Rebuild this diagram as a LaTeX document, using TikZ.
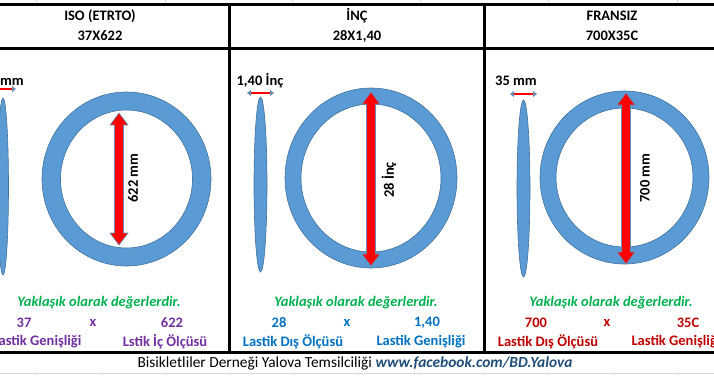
\documentclass[tikz,border=0pt]{standalone}
\usepackage{fontspec}
\setmainfont{Carlito}
\usetikzlibrary{arrows.meta}

\definecolor{ringblue}{HTML}{5B9BD5}
\definecolor{ringedge}{HTML}{41719C}
\definecolor{tipblue}{HTML}{6A8DB5}
\definecolor{okgreen}{HTML}{00B050}
\definecolor{isopurple}{HTML}{7030A0}
\definecolor{incblue}{HTML}{0070C0}
\definecolor{frred}{HTML}{C00000}
\definecolor{fbblue}{HTML}{1F4E79}

\tikzset{
  txt/.style={inner sep=0pt, font=\fontsize{14.5}{17}\selectfont\bfseries},
  plain/.style={inner sep=0pt, font=\fontsize{15.4}{18}\selectfont},
  rim/.style={fill=ringblue, draw=ringedge, line width=0.6pt, even odd rule},
  tyre/.style={fill=ringblue, draw=ringedge, line width=0.6pt},
  bar/.style={line width=3pt},
  grid/.style={gray!30, line width=0.6pt},
  widtharrow/.style={red, line width=2.4pt,
    {Triangle[length=4pt,width=6pt,color=tipblue]}-{Triangle[length=4pt,width=6pt,color=tipblue]}},
  arrowbody/.style={fill=red, draw=tipblue, line width=0.6pt}
}

\newcommand{\bigdimarrow}[3]{%
  \filldraw[arrowbody] ({#1-4.5},{#2+12}) -- ({#1-9},{#2+12}) -- (#1,#2) -- ({#1+9},{#2+12})
    -- ({#1+4.5},{#2+12}) -- ({#1+4.5},{#3-12}) -- ({#1+9},{#3-12}) -- (#1,#3)
    -- ({#1-9},{#3-12}) -- ({#1-4.5},{#3-12}) -- cycle;}

\begin{document}
\begin{tikzpicture}[x=1pt,y=-1pt]
  \useasboundingbox (0,0) rectangle (714,375);
  \clip (0,0) rectangle (714,375);

  \foreach \gx in {36,165,292,420,548,677}
    \draw[grid] (\gx,0) -- (\gx,4);
  \foreach \gx in {36,101,165,229,293,357,420,484,548,613,677}
    \draw[grid] (\gx,373) -- (\gx,375);
  \draw[grid] (0,373) -- (714,373);

  \draw[bar] (0,4) -- (714,4);
  \draw[bar] (0,48) -- (714,48);
  \draw[bar] (0,352) -- (714,352);
  \draw[bar] (229,4) -- (229,352);
  \draw[bar] (484,4) -- (484,352);

  \node[txt] (iso) at (100,16) {ISO (ETRTO)};
  \node[txt] (isosize) at (100,36) {37X622};
  \node[txt] (inc) at (357,16) {İNÇ};
  \node[txt] (incsize) at (357,36) {28X1,40};
  \node[txt] (fr) at (612,16) {FRANSIZ};
  \node[txt] (frsize) at (612,36) {700X35C};

  \filldraw[tyre] (3,186.5) ellipse (5.5 and 88.5);
  \filldraw[tyre] (260.5,184.5) ellipse (6.5 and 87.5);
  \filldraw[tyre] (523.5,188.5) ellipse (6.5 and 88.5);

  \node[txt] (isow) at (3,81) {37 mm};
  \node[txt] (incw) at (260,81) {1,40 İnç};
  \node[txt] (frw) at (516,81) {35 mm};
  \coordinate (isowl) at (-10,89);
  \coordinate (isowr) at (16,89);
  \coordinate (incwl) at (247,93);
  \coordinate (incwr) at (274,93);
  \coordinate (frwl) at (510,94);
  \coordinate (frwr) at (537,94);
  \draw[widtharrow] (isowl) -- (isowr);
  \draw[widtharrow] (incwl) -- (incwr);
  \draw[widtharrow] (frwl) -- (frwr);

  \filldraw[rim] (126.5,179) ellipse (84.5 and 87) (126.5,179) ellipse (66 and 69);
  \filldraw[rim] (371,178) ellipse (86 and 90) (371,178) ellipse (70 and 74);
  \filldraw[rim] (624.5,177.5) ellipse (84.5 and 86.5) (624.5,177.5) ellipse (68.5 and 69.5);

  \bigdimarrow{119}{113}{245}
  \bigdimarrow{371}{92}{266}
  \bigdimarrow{626}{93}{264}

  \node[txt, rotate=90] (isod) at (133,178) {622 mm};
  \node[txt, rotate=90] (incd) at (389,180) {28 İnç};
  \node[txt, rotate=90] (frd) at (645,178) {700 mm};

  \node[txt, okgreen, font=\fontsize{14.5}{17}\selectfont\bfseries\itshape] (isonote) at (99,303) {Yaklaşık olarak değerlerdir.};
  \node[txt, okgreen, font=\fontsize{14.5}{17}\selectfont\bfseries\itshape] (incnote) at (356,303) {Yaklaşık olarak değerlerdir.};
  \node[txt, okgreen, font=\fontsize{14.5}{17}\selectfont\bfseries\itshape] (frnote) at (611,303) {Yaklaşık olarak değerlerdir.};

  \node[txt, isopurple] (isoa) at (24,323) {37};
  \node[txt, isopurple] (isox) at (93,323) {x};
  \node[txt, isopurple] (isob) at (172,323) {622};
  \node[txt, incblue] (inca) at (279,323) {28};
  \node[txt, incblue] (incx) at (347,323) {x};
  \node[txt, incblue] (incb) at (427,323) {1,40};
  \node[txt, frred] (fra) at (536,323) {700};
  \node[txt, frred] (frx) at (607,323) {x};
  \node[txt, frred] (frb) at (688,323) {35C};

  \node[txt, isopurple] (isoal) at (37,342) {Lastik Genişliği};
  \node[txt, isopurple] (isobl) at (165,342) {Lstik İç Ölçüsü};
  \node[txt, incblue] (incal) at (293,342) {Lastik Dış Ölçüsü};
  \node[txt, incblue] (incbl) at (421,342) {Lastik Genişliği};
  \node[txt, frred] (fral) at (548,342) {Lastik Dış Ölçüsü};
  \node[txt, frred] (frbl) at (676,342) {Lastik Genişliği};

  \node[plain] (footer) at (355,363) {Bisikletliler Derneği Yalova Temsilciliği {\bfseries\itshape\color{fbblue}www.facebook.com/BD.Yalova}};
\end{tikzpicture}
\end{document}
